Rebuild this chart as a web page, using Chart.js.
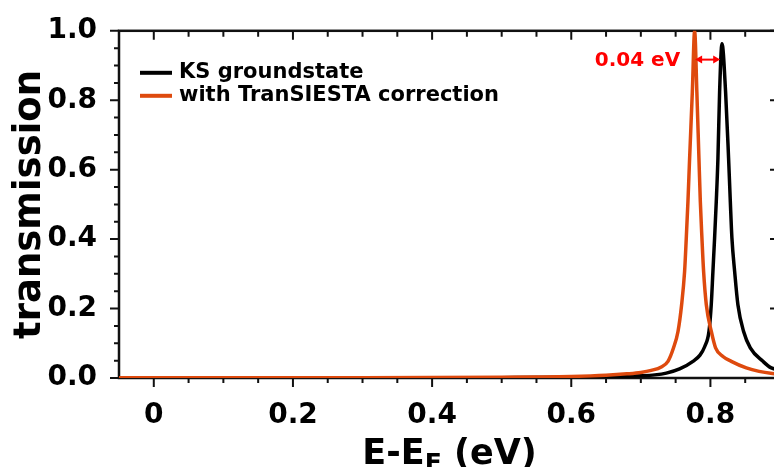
<!DOCTYPE html>
<html>
<head>
<meta charset="utf-8">
<script src="https://cdn.jsdelivr.net/npm/chart.js@4.4.1/dist/chart.umd.min.js"></script>
<style>
  html, body { margin: 0; padding: 0; background: #fff; overflow: hidden; }
  #wrap { width: 774px; height: 467px; overflow: hidden; }
  #box { width: 800px; height: 467px; position: relative; }
</style>
</head>
<body>
<div id="wrap"><div id="box"><canvas id="transmission"></canvas></div></div>
<script>
// KS groundstate (black)
const ksEnergy = [-0.05, 0.0, 0.1, 0.2, 0.3, 0.4, 0.5, 0.6, 0.65, 0.70, 0.72, 0.7366, 0.7557, 0.7749, 0.7850, 0.7917, 0.7979, 0.8012, 0.8036, 0.806, 0.8084, 0.8108, 0.8132, 0.8166, 0.8218, 0.8261, 0.8286, 0.8309, 0.8348, 0.8395, 0.8477, 0.8573, 0.8755, 0.8875, 0.90];
const ksTrans  = [0.0001, 0.0001, 0.0002, 0.0003, 0.0004, 0.0006, 0.0010, 0.0020, 0.0035, 0.0065, 0.009, 0.014, 0.026, 0.048, 0.066, 0.090, 0.134, 0.211, 0.307, 0.403, 0.508, 0.633, 0.824, 0.963, 0.824, 0.633, 0.508, 0.403, 0.307, 0.211, 0.134, 0.087, 0.048, 0.029, 0.024];

// with TranSIESTA correction (orange)
const tsEnergy = [-0.05, 0.0, 0.1, 0.2, 0.3, 0.4, 0.5, 0.55, 0.60, 0.65, 0.68, 0.70, 0.715, 0.7294, 0.739, 0.747, 0.7534, 0.7586, 0.7629, 0.7653, 0.7677, 0.7701, 0.774, 0.7773, 0.7805, 0.7835, 0.7855, 0.7878, 0.7902, 0.7941, 0.8013, 0.8074, 0.818, 0.830, 0.8516, 0.870, 0.889, 0.90];
const tsTrans  = [0.0004, 0.0005, 0.0006, 0.0008, 0.0010, 0.0014, 0.0022, 0.003, 0.0045, 0.008, 0.012, 0.016, 0.022, 0.032, 0.048, 0.087, 0.134, 0.211, 0.307, 0.403, 0.508, 0.633, 0.824, 1.000, 0.824, 0.633, 0.508, 0.403, 0.307, 0.211, 0.134, 0.087, 0.062, 0.048, 0.029, 0.019, 0.013, 0.011];

const seriesLabels = ['KS groundstate', 'with TranSIESTA correction'];
const xTicks = [0, 0.2, 0.4, 0.6, 0.8];
const xTickLabels = ['0', '0.2', '0.4', '0.6', '0.8'];
const yTicks = [0, 0.2, 0.4, 0.6, 0.8, 1.0];
const yTickLabels = ['0.0', '0.2', '0.4', '0.6', '0.8', '1.0'];

// shift annotation: from orange peak to black peak
const shiftFrom = 0.778;
const shiftTo = 0.814;
const shiftLevel = 0.917;
const shiftText = '0.04 eV';

const FONT = '"DejaVu Sans", sans-serif';
const BLACK = '#000000';
const ORANGE = '#de4a0e';
const RED = '#ff0000';

const toPoints = (xs, ys) => xs.map((x, i) => ({ x, y: ys[i] }));
const isMajor = (v, majors) => majors.some(m => Math.abs(m - v) < 1e-6);

const frame = {
  id: 'frame',
  beforeDatasetsDraw(chart) {
    const { ctx, chartArea: a, scales: { x, y } } = chart;
    ctx.save();
    ctx.strokeStyle = '#111';
    ctx.lineWidth = 2;
    ctx.beginPath();
    for (let i = 0; i <= 18; i++) {
      const v = i * 0.05;
      const px = x.getPixelForValue(v);
      const major = isMajor(v, xTicks);
      ctx.moveTo(px, a.bottom); ctx.lineTo(px, a.bottom + (major ? 9 : 5));
      ctx.moveTo(px, a.top); ctx.lineTo(px, a.top + (major ? 9 : 6));
    }
    for (let i = 0; i <= 20; i++) {
      const v = i * 0.05;
      const py = y.getPixelForValue(v);
      const major = isMajor(v, yTicks);
      ctx.moveTo(a.left, py); ctx.lineTo(a.left - (major ? 9 : 5), py);
      ctx.moveTo(a.right, py); ctx.lineTo(a.right - (major ? 10 : 6), py);
    }
    ctx.stroke();
    ctx.lineWidth = 2.5;
    ctx.strokeRect(a.left, a.top, a.right - a.left, a.bottom - a.top);
    ctx.restore();
  },
  afterDatasetsDraw(chart) {
    const { ctx, chartArea: a, scales: { x, y } } = chart;
    ctx.save();

    // legend
    const colors = [BLACK, ORANGE];
    ctx.font = 'bold 21px ' + FONT;
    ctx.textBaseline = 'middle';
    seriesLabels.forEach((label, i) => {
      const ly = a.top + 42 + i * 23;
      ctx.strokeStyle = colors[i];
      ctx.lineWidth = 4;
      ctx.beginPath();
      ctx.moveTo(a.left + 21, ly);
      ctx.lineTo(a.left + 53, ly);
      ctx.stroke();
      ctx.fillStyle = '#000';
      ctx.fillText(label, a.left + 60, ly);
    });

    // shift arrow
    const x1 = x.getPixelForValue(shiftFrom);
    const x2 = x.getPixelForValue(shiftTo);
    const ay = y.getPixelForValue(shiftLevel);
    ctx.strokeStyle = RED;
    ctx.fillStyle = RED;
    ctx.lineWidth = 2;
    ctx.beginPath();
    ctx.moveTo(x1 + 3, ay); ctx.lineTo(x2 - 3, ay);
    ctx.stroke();
    [[x1, 1], [x2, -1]].forEach(([px, dir]) => {
      ctx.beginPath();
      ctx.moveTo(px, ay);
      ctx.lineTo(px + dir * 7, ay - 4);
      ctx.lineTo(px + dir * 7, ay + 4);
      ctx.closePath();
      ctx.fill();
    });
    ctx.font = 'bold 20px ' + FONT;
    ctx.textAlign = 'right';
    ctx.fillText(shiftText, x1 - 15, ay + 1);

    // axis titles
    ctx.fillStyle = '#000';
    ctx.save();
    ctx.translate(30, (a.top + a.bottom) / 2);
    ctx.rotate(-Math.PI / 2);
    ctx.font = 'bold 37px ' + FONT;
    ctx.textAlign = 'center';
    ctx.textBaseline = 'middle';
    ctx.fillText('transmission', 0, 0);
    ctx.restore();

    const big = 'bold 35px ' + FONT;
    const small = 'bold 25px ' + FONT;
    const parts = [['E-E', big, 0], ['F', small, 7], [' (eV)', big, 0]];
    let total = 0;
    parts.forEach(([t, f]) => { ctx.font = f; total += ctx.measureText(t).width; });
    let tx = (a.left + a.right) / 2 - total / 2;
    ctx.textAlign = 'left';
    ctx.textBaseline = 'alphabetic';
    parts.forEach(([t, f, dy]) => {
      ctx.font = f;
      ctx.fillText(t, tx, 464 + dy);
      tx += ctx.measureText(t).width;
    });
    ctx.restore();
  }
};

new Chart(document.getElementById('transmission'), {
  type: 'line',
  data: {
    datasets: [
      {
        label: seriesLabels[0],
        data: toPoints(ksEnergy, ksTrans),
        borderColor: BLACK,
        borderWidth: 3.5,
        pointRadius: 0,
        cubicInterpolationMode: 'monotone',
        order: 1
      },
      {
        label: seriesLabels[1],
        data: toPoints(tsEnergy, tsTrans),
        borderColor: ORANGE,
        borderWidth: 3.5,
        pointRadius: 0,
        cubicInterpolationMode: 'monotone',
        order: 0
      }
    ]
  },
  options: {
    responsive: true,
    maintainAspectRatio: false,
    animation: false,
    layout: { padding: { left: 0, top: 30, right: 20, bottom: 0 } },
    plugins: { legend: { display: false }, tooltip: { enabled: false } },
    scales: {
      x: {
        type: 'linear',
        min: -0.05,
        max: 0.9,
        grid: { display: false },
        border: { display: false },
        afterBuildTicks: scale => { scale.ticks = xTicks.map(value => ({ value })); },
        afterFit: scale => { scale.height = 89; },
        ticks: {
          padding: 13,
          color: '#000',
          maxRotation: 0,
          font: { family: FONT, size: 28, weight: 'bold' },
          callback: (value, i) => xTickLabels[i]
        }
      },
      y: {
        type: 'linear',
        min: 0,
        max: 1,
        grid: { display: false },
        border: { display: false },
        afterBuildTicks: scale => { scale.ticks = yTicks.map(value => ({ value })); },
        afterFit: scale => { scale.width = 119; },
        ticks: {
          padding: 14,
          color: '#000',
          font: { family: FONT, size: 28, weight: 'bold' },
          callback: (value, i) => yTickLabels[i]
        }
      }
    }
  },
  plugins: [frame]
});
</script>
</body>
</html>
